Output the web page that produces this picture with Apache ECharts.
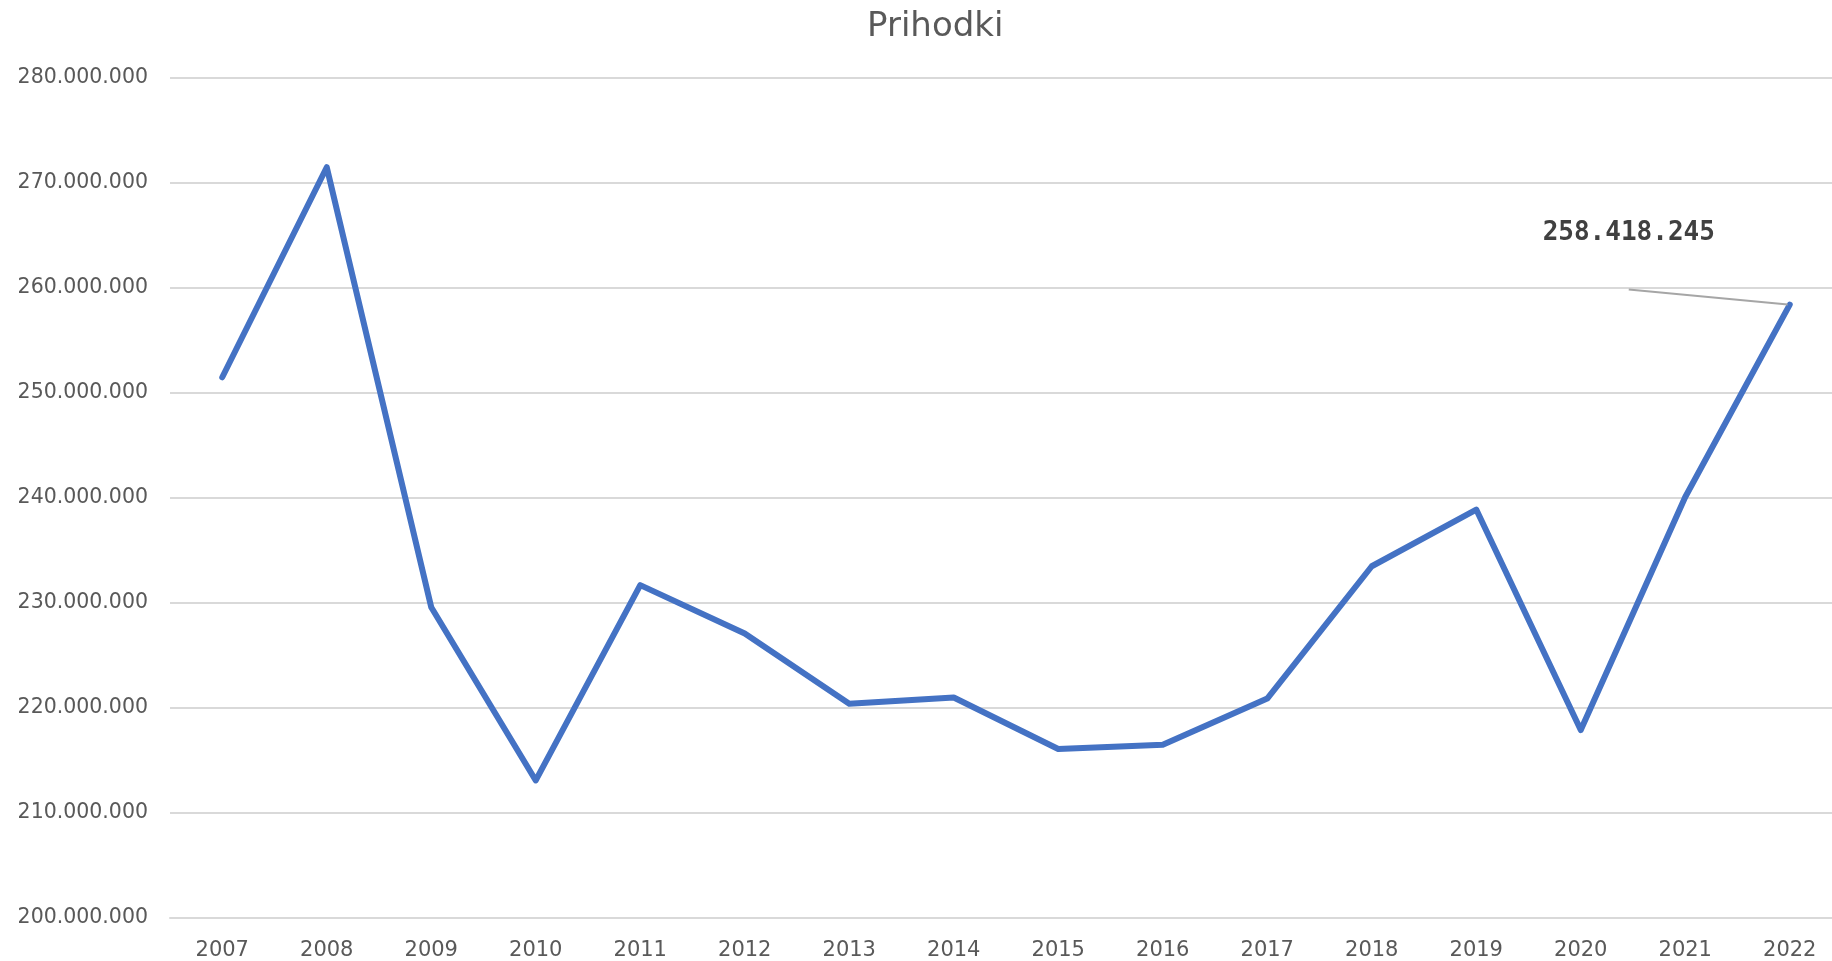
<!DOCTYPE html>
<html>
<head>
<meta charset="utf-8">
<script src="https://cdn.jsdelivr.net/npm/echarts@6/dist/echarts.min.js"></script>
<style>
  html, body { margin: 0; padding: 0; background: #fff; }
  #chart { width: 1832px; height: 961px; }
</style>
</head>
<body>
<div id="chart"></div>
<script>
// Prihodki po letih
const years = ['2007', '2008', '2009', '2010', '2011', '2012', '2013', '2014',
  '2015', '2016', '2017', '2018', '2019', '2020', '2021', '2022'];
const prihodki = [251500000, 271500000, 229600000, 213100000, 231700000, 227100000,
  220400000, 221000000, 216100000, 216500000, 220900000, 233500000, 238900000,
  217900000, 240100000, 258418245];
const labelIndex = 15; // only the last point carries a value label

const fmt = v => String(Math.round(v)).replace(/\B(?=(\d{3})+(?!\d))/g, '.');

const chart = echarts.init(document.getElementById('chart'));

const option = {
  animation: false,
  title: {
    text: 'Prihodki',
    left: 862,
    top: 5,
    textStyle: {
      fontFamily: 'DejaVu Sans',
      fontSize: 34,
      fontWeight: 'normal',
      color: '#595959'
    }
  },
  grid: {
    left: 170,
    top: 78,
    width: 1672,
    height: 840,
    outerBoundsMode: 'none'
  },
  xAxis: {
    type: 'category',
    data: years,
    boundaryGap: true,
    axisLine: { lineStyle: { color: '#d9d9d9', width: 2 } },
    axisTick: { show: false },
    axisLabel: {
      fontFamily: 'DejaVu Sans',
      fontSize: 21,
      color: '#595959',
      margin: 22
    }
  },
  yAxis: {
    type: 'value',
    min: 200000000,
    max: 280000000,
    interval: 10000000,
    axisLine: { show: false },
    axisTick: { show: false },
    splitLine: { lineStyle: { color: '#d9d9d9', width: 2 } },
    axisLabel: {
      fontFamily: 'DejaVu Sans',
      fontSize: 20.5,
      color: '#595959',
      margin: 22,
      formatter: v => fmt(v)
    }
  },
  series: [
    {
      name: 'Prihodki',
      type: 'line',
      data: prihodki.map((v, i) => {
        if (i !== labelIndex) return v;
        return {
          value: v,
          label: {
            show: true,
            position: 'top',
            // second, empty line widens the box so the guide line leaves from its bottom centre
            formatter: p => '{v|' + fmt(p.value) + '}\n{s| }',
            rich: {
              v: {
                fontFamily: 'DejaVu Sans Mono',
                fontWeight: 'bold',
                fontSize: 26,
                lineHeight: 30,
                color: '#404040'
              },
              s: { width: 800, height: 41, fontSize: 1, lineHeight: 41 }
            }
          },
          labelLine: {
            show: true,
            lineStyle: { color: '#a6a6a6', width: 2 }
          }
        };
      }),
      labelLayout: p => (p.dataIndex === labelIndex ? { dx: -161, dy: -8 } : {}),
      symbol: 'circle',
      symbolSize: 4,
      lineStyle: { color: '#4472C4', width: 6, cap: 'round', join: 'round' },
      itemStyle: { color: '#4472C4' }
    }
  ]
};

chart.setOption(option);
</script>
</body>
</html>
